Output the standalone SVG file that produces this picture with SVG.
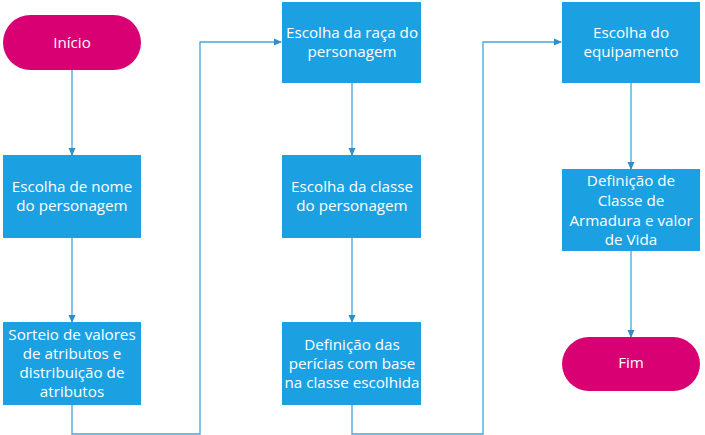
<svg xmlns="http://www.w3.org/2000/svg" width="705" height="435" viewBox="0 0 705 435">
<style>
.box{fill:#1BA1E2}
.term{fill:#D80073}
.t{font-family:"Open Sans","Noto Sans",sans-serif;font-size:15.2px;fill:#ffffff;text-anchor:middle}
.c{fill:none;stroke:#41A6DE;stroke-width:1.3}
</style>
<defs>
<marker id="a" markerWidth="8" markerHeight="8" refX="7" refY="4" orient="auto" markerUnits="userSpaceOnUse">
<path d="M0,0.5 L8,4 L0,7.5 Z" fill="#2E8FCB"/>
</marker>
</defs>
<rect width="705" height="435" fill="#ffffff"/>
<g id="connectors">
<path class="c" d="M72,70 V155" marker-end="url(#a)"/>
<path class="c" d="M72,238 V322" marker-end="url(#a)"/>
<path class="c" d="M72,405 V434 H200 V42 H281" marker-end="url(#a)"/>
<path class="c" d="M352,83 V155" marker-end="url(#a)"/>
<path class="c" d="M352,238 V322" marker-end="url(#a)"/>
<path class="c" d="M352,405 V434 H483 V42 H561" marker-end="url(#a)"/>
<path class="c" d="M631,83 V169" marker-end="url(#a)"/>
<path class="c" d="M631,251 V337" marker-end="url(#a)"/>
</g>
<g id="inicio">
<rect class="term" x="3" y="15" width="138" height="55" rx="27.5"/>
<text class="t" x="72" y="48">Início</text>
</g>
<g id="nome">
<rect class="box" x="3" y="155" width="138" height="83"/>
<text class="t" x="72" y="192">Escolha de nome</text>
<text class="t" x="72" y="211">do personagem</text>
</g>
<g id="sorteio">
<rect class="box" x="3" y="322" width="138" height="83"/>
<text class="t" x="72" y="340">Sorteio de valores</text>
<text class="t" x="72" y="359">de atributos e</text>
<text class="t" x="72" y="378">distribuição de</text>
<text class="t" x="72" y="397">atributos</text>
</g>
<g id="raca">
<rect class="box" x="282" y="2" width="139" height="81"/>
<text class="t" x="352" y="38">Escolha da raça do</text>
<text class="t" x="352" y="57">personagem</text>
</g>
<g id="classe">
<rect class="box" x="282" y="155" width="139" height="83"/>
<text class="t" x="352" y="192">Escolha da classe</text>
<text class="t" x="352" y="211">do personagem</text>
</g>
<g id="pericias">
<rect class="box" x="282" y="322" width="139" height="83"/>
<text class="t" x="352" y="350">Definição das</text>
<text class="t" x="352" y="369">perícias com base</text>
<text class="t" x="352" y="388">na classe escolhida</text>
</g>
<g id="equipamento">
<rect class="box" x="562" y="2" width="138" height="81"/>
<text class="t" x="631" y="38">Escolha do</text>
<text class="t" x="631" y="57">equipamento</text>
</g>
<g id="armadura">
<rect class="box" x="562" y="169" width="138" height="82"/>
<text class="t" x="631" y="186">Definição de</text>
<text class="t" x="631" y="206">Classe de</text>
<text class="t" x="631" y="226">Armadura e valor</text>
<text class="t" x="631" y="245">de Vida</text>
</g>
<g id="fim">
<rect class="term" x="562" y="337" width="138" height="54" rx="27"/>
<text class="t" x="631" y="368">Fim</text>
</g>
</svg>
